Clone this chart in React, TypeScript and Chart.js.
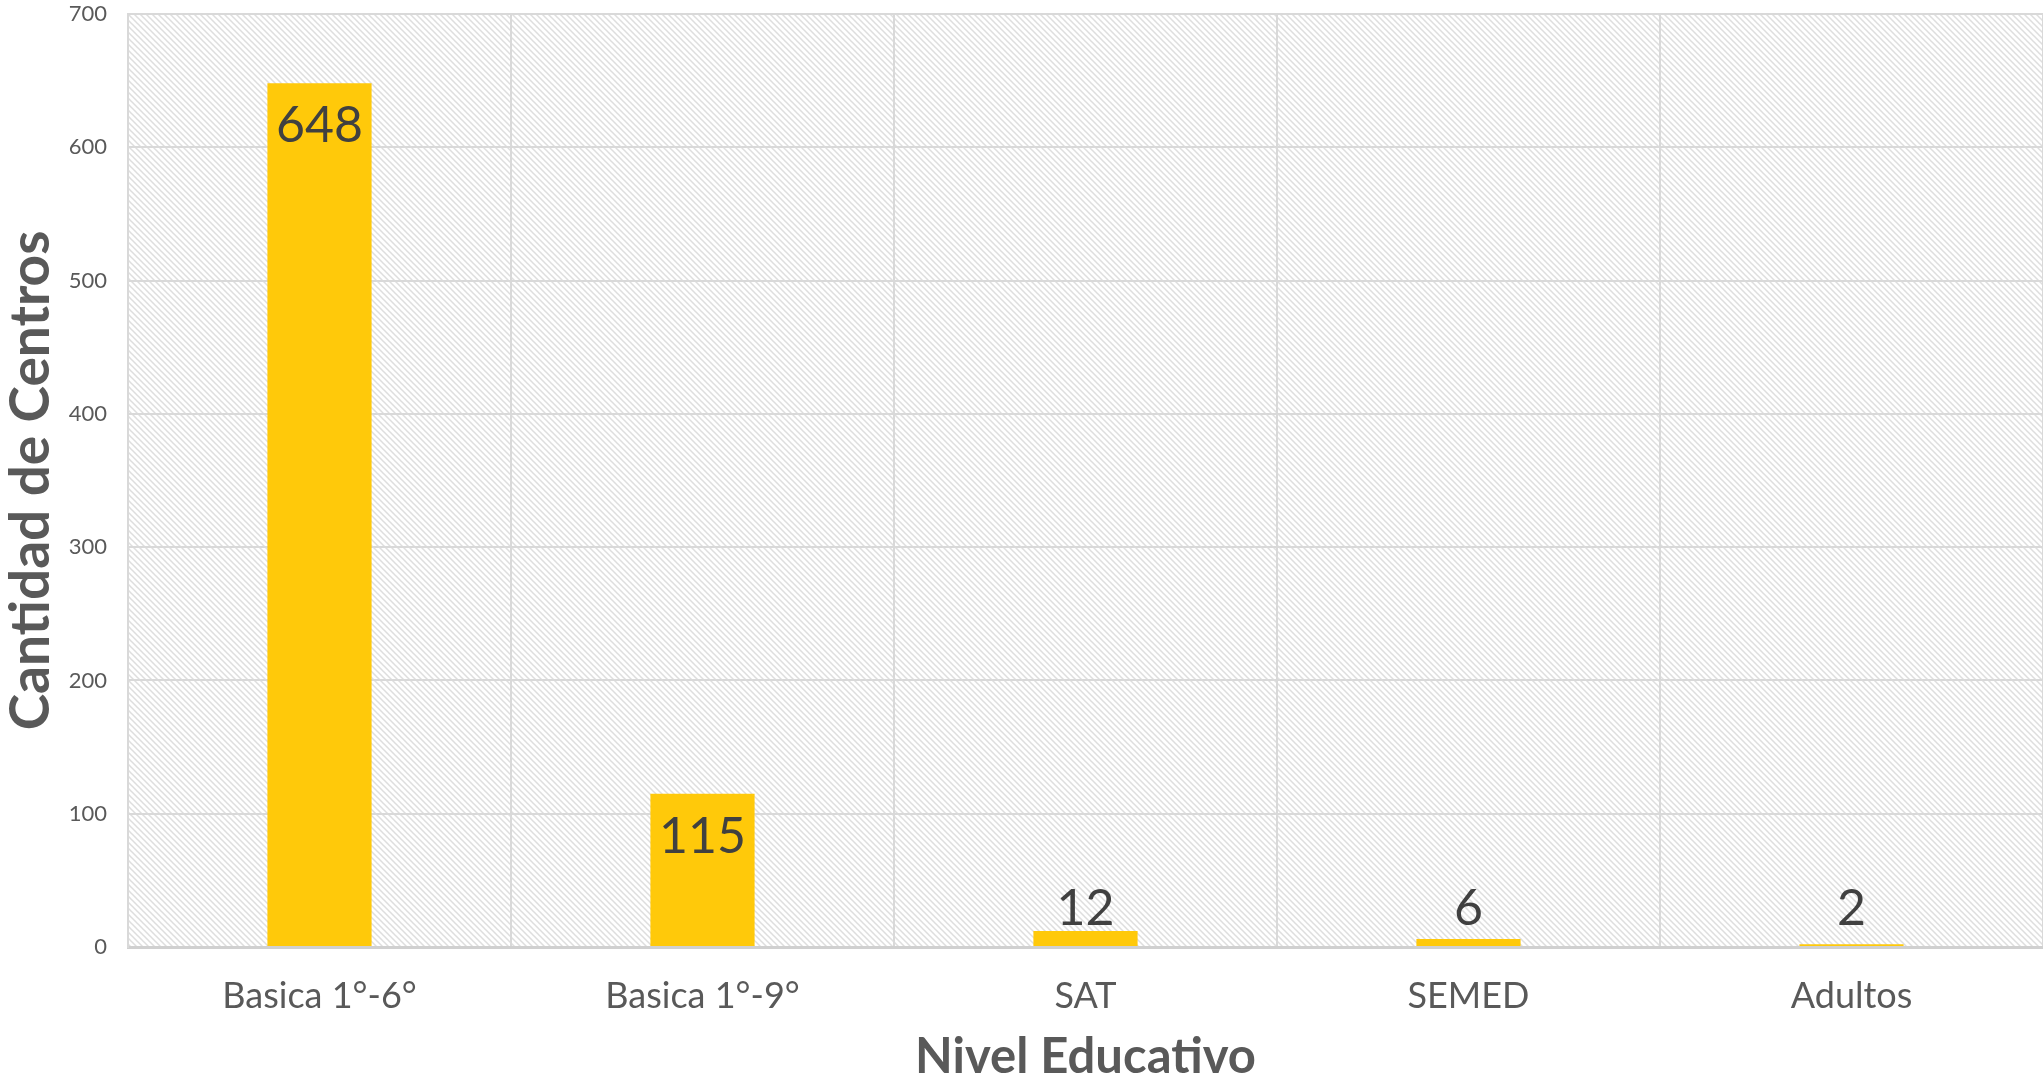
import React, { useEffect, useRef } from "react";
import { Chart, registerables } from "chart.js";

Chart.register(...registerables);

const categories = ["Basica 1°-6°", "Basica 1°-9°", "SAT", "SEMED", "Adultos"];
const values = [648, 115, 12, 6, 2];
const yTicks = [0, 100, 200, 300, 400, 500, 600, 700];

const FONT = "Lato, 'Open Sans', sans-serif";

function makePattern(): CanvasPattern | string {
  const c = document.createElement("canvas");
  c.width = 6;
  c.height = 6;
  const g = c.getContext("2d");
  if (!g) return "#eeeeee";
  g.fillStyle = "#ffffff";
  g.fillRect(0, 0, 6, 6);
  g.strokeStyle = "#dedede";
  g.lineWidth = 1.5;
  g.beginPath();
  g.moveTo(-1, -1);
  g.lineTo(7, 7);
  g.moveTo(-4, 2);
  g.lineTo(4, 10);
  g.moveTo(2, -4);
  g.lineTo(10, 4);
  g.stroke();
  const p = g.createPattern(c, "repeat");
  return p || "#eeeeee";
}

export default function App() {
  const ref = useRef<HTMLCanvasElement | null>(null);

  useEffect(() => {
    document.body.style.margin = "0";
    const canvas = ref.current;
    if (!canvas) return;
    const pattern = makePattern();

    const bgPlugin = {
      id: "bgPattern",
      beforeDraw(chart: any) {
        const { ctx, chartArea } = chart;
        ctx.save();
        ctx.fillStyle = pattern;
        ctx.fillRect(chartArea.left, chartArea.top, chartArea.right - chartArea.left, chartArea.bottom - chartArea.top);
        ctx.restore();
      },
    };

    const labelPlugin = {
      id: "barLabels",
      afterDatasetsDraw(chart: any) {
        const { ctx } = chart;
        const meta = chart.getDatasetMeta(0);
        const base = chart.scales.y.getPixelForValue(0);
        ctx.save();
        ctx.font = `50px ${FONT}`;
        ctx.fillStyle = "#404040";
        ctx.textAlign = "center";
        ctx.textBaseline = "middle";
        meta.data.forEach((bar: any, i: number) => {
          const y = Math.min(bar.y + 43, base - 38);
          ctx.fillText(String(values[i]), bar.x, y);
        });
        ctx.restore();
      },
    };

    const chart = new Chart(canvas, {
      type: "bar",
      data: {
        labels: categories,
        datasets: [
          {
            data: values,
            backgroundColor: "#FFC90A",
            barPercentage: 0.272,
            categoryPercentage: 1,
          },
        ],
      },
      options: {
        animation: false,
        responsive: false,
        maintainAspectRatio: false,
        layout: { padding: { top: 14, right: 0, bottom: 0, left: 0 } },
        plugins: {
          legend: { display: false },
          tooltip: { enabled: false },
        },
        scales: {
          x: {
            afterFit(scale: any) {
              scale.height = 130;
              scale.paddingLeft = 0;
              scale.paddingRight = 0;
            },
            grid: {
              color: "#d9d9d9",
              lineWidth: 2,
              drawTicks: false,
              offset: true,
            },
            border: { color: "#d0d0d0", width: 3 },
            ticks: {
              color: "#595959",
              font: { family: FONT, size: 36 },
              padding: 28,
            },
            title: {
              display: true,
              text: "Nivel Educativo",
              color: "#595959",
              font: { family: FONT, size: 49, weight: "bold", lineHeight: 0.82 },
              padding: 0,
            },
          },
          y: {
            min: 0,
            max: 700,
            afterFit(scale: any) {
              scale.width = 128;
              scale.paddingTop = 0;
              scale.paddingBottom = 0;
            },
            afterBuildTicks(scale: any) {
              scale.ticks = yTicks.map((v) => ({ value: v }));
            },
            grid: {
              color: "#d9d9d9",
              lineWidth: 2,
              drawTicks: false,
            },
            border: { color: "#d9d9d9", width: 2 },
            ticks: {
              color: "#595959",
              font: { family: FONT, size: 22 },
              padding: 21,
            },
            title: {
              display: true,
              text: "Cantidad de Centros",
              color: "#595959",
              font: { family: FONT, size: 55, weight: "bold", lineHeight: 1.15 },
              padding: 0,
            },
          },
        },
      },
      plugins: [bgPlugin, labelPlugin],
    });
    return () => chart.destroy();
  }, []);

  return <canvas ref={ref} width={2043} height={1077} style={{ display: "block" }} />;
}
